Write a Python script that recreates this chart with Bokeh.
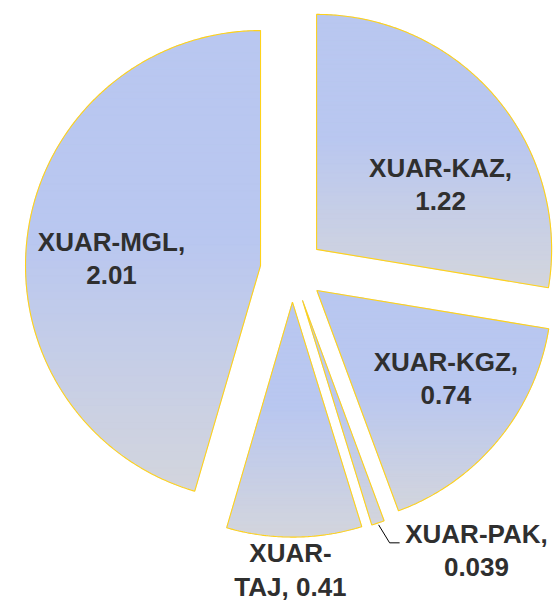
import numpy as np
from bokeh.plotting import figure
from bokeh.models import Range1d
from bokeh.embed import file_html
from bokeh.resources import INLINE
from bokeh.core.properties import value

# ---- data ----
names = ["XUAR-KAZ", "XUAR-KGZ", "XUAR-PAK", "XUAR-TAJ", "XUAR-MGL"]
values = [1.22, 0.74, 0.039, 0.41, 2.01]
value_texts = ["1.22", "0.74", "0.039", "0.41", "2.01"]

# ---- layout / style ----
W, H = 556, 606
CX, CY = 291.7, 269.6      # pie centre (pixels, y downward)
R = 235.0
EXPLODE = 32.0
TOP = np.array([0xB9, 0xC7, 0xF0], dtype=float)
BOT = np.array([0xD3, 0xD5, 0xDD], dtype=float)
BORDER = "#FFD21A"
TEXT_COLOR = "#2F2F2F"
# label centres as (dx, dy) offsets from each slice's exploded vertex
label_offsets = [(124, -65), (129, 88), (174, 250), (-2, 268), (-149, -7)]

def hexcol(c):
    c = np.clip(np.round(c), 0, 255).astype(int)
    return "#%02x%02x%02x" % tuple(c)

def clip_half(poly, y0, keep_above):
    out = []
    n = len(poly)
    for i in range(n):
        a = poly[i]; b = poly[(i + 1) % n]
        ina = a[1] >= y0 if keep_above else a[1] <= y0
        inb = b[1] >= y0 if keep_above else b[1] <= y0
        if ina:
            out.append(a)
        if ina != inb:
            t = (y0 - a[1]) / (b[1] - a[1])
            out.append((a[0] + t * (b[0] - a[0]), y0))
    return out

def clip_band(poly, y0, y1):
    p = clip_half(poly, y0, True)
    if not p:
        return p
    return clip_half(p, y1, False)

p = figure(width=W, height=H, output_backend="svg", toolbar_location=None,
           x_range=Range1d(0, W), y_range=Range1d(H, 0), min_border=0)
p.axis.visible = False
p.grid.visible = False
p.outline_line_color = None
p.background_fill_color = "white"

total = sum(values)
start = 0.0
strip_xs, strip_ys, strip_cols = [], [], []
outline_xs, outline_ys = [], []
lab_x, lab_y, lab_t = [], [], []
leader = None
for i, (nm, v) in enumerate(zip(names, values)):
    sweep = v / total * 2 * np.pi
    a0, a1 = start, start + sweep
    mid = (a0 + a1) / 2
    start = a1
    vx = CX + EXPLODE * np.sin(mid)
    vy = CY - EXPLODE * np.cos(mid)
    n = max(3, int(np.degrees(sweep) * 2))
    angs = np.linspace(a0, a1, n)
    poly = [(vx, vy)] + [(vx + R * np.sin(a), vy - R * np.cos(a)) for a in angs]
    ys = [q[1] for q in poly]
    ymin, ymax = min(ys), max(ys)
    nb = 60
    edges = np.linspace(ymin, ymax, nb + 1)
    for k in range(nb):
        band = clip_band(poly, edges[k] - 0.4, edges[k + 1] + 0.4)
        if len(band) < 3:
            continue
        t = ((edges[k] + edges[k + 1]) / 2 - ymin) / (ymax - ymin)
        f = 0.0 if t < 0.45 else (t - 0.45) / 0.55
        col = TOP + (BOT - TOP) * f
        strip_xs.append([q[0] for q in band])
        strip_ys.append([q[1] for q in band])
        strip_cols.append(hexcol(col))
    outline_xs.append([q[0] for q in poly])
    outline_ys.append([q[1] for q in poly])
    dx, dy = label_offsets[i]
    lab_x.append(vx + dx)
    lab_y.append(vy + dy)
    if nm == "XUAR-TAJ":
        lab_t.append("XUAR-\nTAJ, " + value_texts[i])
    else:
        lab_t.append(nm + ",\n" + value_texts[i])
    if nm == "XUAR-PAK":
        sx = vx + (R + 2) * np.sin(mid)
        sy = vy - (R + 2) * np.cos(mid)
        leader = ([sx, sx + 11, sx + 21], [sy, sy + 18, sy + 18])

p.patches(strip_xs, strip_ys, fill_color=strip_cols, line_color=strip_cols, line_width=0.6)
p.patches(outline_xs, outline_ys, fill_color=None, line_color=BORDER, line_width=1.1)
if leader:
    p.line(leader[0], leader[1], line_color="black", line_width=1)

p.text(x=lab_x, y=lab_y, text=lab_t, text_font=value("Liberation Sans"),
       text_font_style="bold", text_font_size="26px", text_color=TEXT_COLOR,
       text_align="center", text_baseline="middle", text_line_height=1.12)

open("out.html", "w").write(file_html(p, INLINE))
